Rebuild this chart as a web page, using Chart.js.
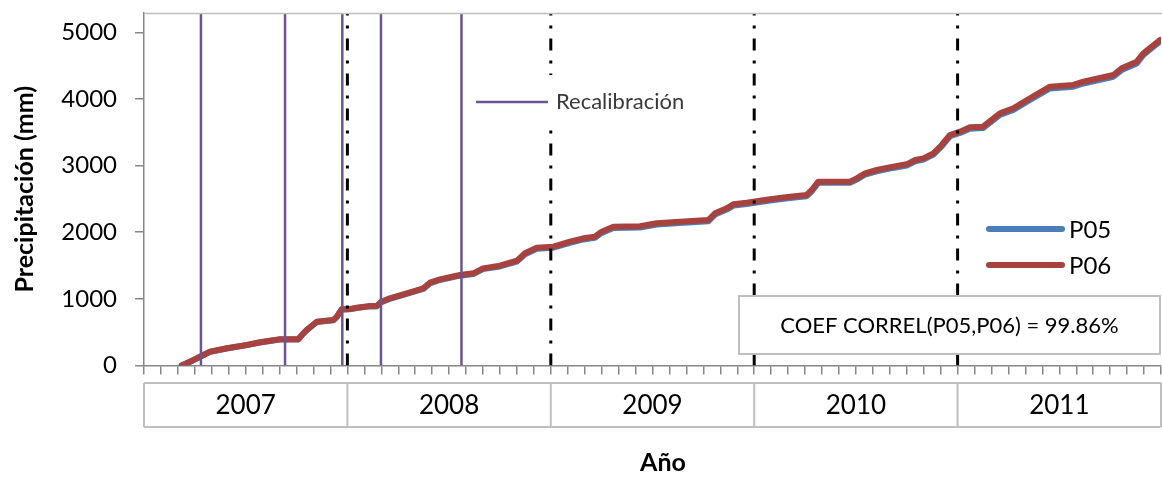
<!DOCTYPE html>
<html>
<head>
<meta charset="utf-8">
<script src="https://cdn.jsdelivr.net/npm/chart.js@4/dist/chart.umd.min.js"></script>
<style>
  html, body { margin: 0; padding: 0; background: #fff; }
  canvas { display: block; }
</style>
</head>
<body>
<canvas id="c" width="1162" height="477"></canvas>
<script>
// ---- Data (x in months since 1 Jan 2007) ----
const years = ['2007', '2008', '2009', '2010', '2011'];
const yearBounds = [0, 12, 24, 36, 48, 60];
const yTicks = [0, 1000, 2000, 3000, 4000, 5000];
const recalibrations = [3.36, 8.32, 11.70, 13.98, 18.73];
const sampleMonths = [2.22,2.71,3.30,3.89,4.88,6.06,6.84,8.02,9.10,9.40,9.60,10.19,11.17,11.37,11.66,12.15,12.55,13.33,13.73,14.00,14.50,15.50,16.48,16.87,17.46,18.64,19.43,20.00,21.00,22.00,22.48,23.17,24.15,25.13,25.92,26.60,27.00,27.69,29.26,30.25,31.62,33.30,33.69,34.38,34.77,35.56,36.34,36.93,38.11,39.10,39.40,39.78,41.65,42.05,42.54,43.23,44.20,45.00,45.50,45.98,46.57,47.06,47.55,48.14,48.73,49.50,50.50,51.29,52.27,53.45,54.83,55.42,57.19,57.68,58.57,58.96,59.94];
const p06 = [0,57,132,207,258,308,348,393,393,483,533,657,683,732,843,848,867,893,893,957,1008,1083,1158,1243,1293,1358,1383,1458,1498,1573,1684,1768,1783,1858,1909,1933,2008,2083,2090,2134,2158,2184,2284,2359,2419,2443,2473,2494,2533,2559,2634,2759,2759,2809,2884,2934,2984,3019,3084,3109,3184,3309,3459,3509,3574,3584,3785,3860,4010,4184,4210,4259,4360,4460,4559,4685,4885];
const p05 = [0,55,130,205,256,306,346,390,390,480,530,652,678,727,838,843,862,887,887,950,1000,1075,1150,1233,1283,1348,1372,1446,1486,1560,1670,1753,1768,1842,1892,1915,1990,2064,2072,2115,2140,2165,2265,2340,2400,2425,2455,2476,2515,2541,2615,2741,2741,2790,2866,2915,2965,3000,3064,3090,3165,3290,3440,3490,3553,3563,3762,3836,3985,4158,4183,4232,4333,4433,4532,4660,4862];
const correlText = 'COEF CORREL(P05,P06) = 99.86%';

const Y_MAX = 5290;
const X_MIN = 0, X_MAX = 60;

const PURPLE = '#6B548F';
const RED = '#A8423F';
const BLUE = '#4A7EBB';
const AXIS = '#868686';
const BOX = '#BFBFBF';
const FONT = 'Lato, "Open Sans", sans-serif';

function vline(x) { return [{x: x, y: 0}, {x: x, y: Y_MAX}]; }

const datasets = [];
recalibrations.forEach((m, i) => datasets.push({
  label: 'Recalibración' + i, data: vline(m), borderColor: PURPLE, borderWidth: 2.5,
  pointRadius: 0, fill: false
}));
yearBounds.slice(1, -1).forEach((m, i) => datasets.push({
  label: 'year' + i, data: vline(m), borderColor: '#000', borderWidth: 3,
  borderDash: [12, 10, 3, 10], pointRadius: 0, fill: false
}));
datasets.push({
  label: 'P06', data: sampleMonths.map((m, i) => ({x: m, y: p06[i]})),
  borderColor: RED, borderWidth: 6, pointRadius: 0, fill: false, borderJoinStyle: 'round', borderCapStyle: 'round'
});
datasets.push({
  label: 'P05', data: sampleMonths.map((m, i) => ({x: m, y: p05[i]})),
  borderColor: BLUE, borderWidth: 6, pointRadius: 0, fill: false, borderJoinStyle: 'round', borderCapStyle: 'round'
});

const decor = {
  id: 'decor',
  afterDraw(chart) {
    const ctx = chart.ctx;
    const xs = chart.scales.x;
    const ca = chart.chartArea;
    ctx.save();
    // top border of plot area
    ctx.strokeStyle = BOX; ctx.lineWidth = 1.5;
    ctx.beginPath(); ctx.moveTo(ca.left, ca.top + 0.5); ctx.lineTo(chart.width, ca.top + 0.5); ctx.stroke();

    // Year category boxes
    const bTop = 383, bBot = 427;
    ctx.strokeStyle = BOX; ctx.lineWidth = 2;
    ctx.beginPath();
    ctx.moveTo(xs.getPixelForValue(X_MIN), bTop); ctx.lineTo(xs.getPixelForValue(X_MAX), bTop);
    ctx.moveTo(xs.getPixelForValue(X_MIN), bBot); ctx.lineTo(xs.getPixelForValue(X_MAX), bBot);
    yearBounds.forEach(b => {
      const px = Math.min(xs.getPixelForValue(b), chart.width - 1);
      ctx.moveTo(px, bTop); ctx.lineTo(px, bBot);
    });
    ctx.stroke();
    ctx.fillStyle = '#000';
    ctx.font = '26px ' + FONT;
    ctx.textAlign = 'center'; ctx.textBaseline = 'middle';
    years.forEach((y, i) => {
      const cx = (xs.getPixelForValue(yearBounds[i]) + xs.getPixelForValue(yearBounds[i + 1])) / 2;
      ctx.fillText(y, cx, 406);
    });

    // X axis title
    ctx.font = 'bold 25px ' + FONT;
    ctx.fillText('Año', 663, 463);

    // Recalibración legend (white box)
    ctx.fillStyle = '#fff';
    ctx.fillRect(470, 75, 232, 53);
    ctx.strokeStyle = PURPLE; ctx.lineWidth = 2.5;
    ctx.beginPath(); ctx.moveTo(476, 102); ctx.lineTo(548, 102); ctx.stroke();
    ctx.fillStyle = '#3a3a3a';
    ctx.font = '22px ' + FONT;
    ctx.textAlign = 'left';
    ctx.fillText('Recalibración', 556, 102);

    // P05 / P06 legend
    ctx.lineCap = 'round'; ctx.lineWidth = 6;
    [['P05', BLUE, 229], ['P06', RED, 265]].forEach(([t, c, y]) => {
      ctx.strokeStyle = c;
      ctx.beginPath(); ctx.moveTo(989, y); ctx.lineTo(1062, y); ctx.stroke();
      ctx.fillStyle = '#000';
      ctx.font = '24px ' + FONT;
      ctx.fillText(t, 1069, y + 1);
    });
    ctx.lineCap = 'butt';

    // Correlation box
    ctx.fillStyle = '#fff';
    ctx.fillRect(739, 296, 421, 58);
    ctx.strokeStyle = BOX; ctx.lineWidth = 2;
    ctx.strokeRect(739, 296, 421, 58);
    ctx.fillStyle = '#000';
    ctx.font = '22px ' + FONT;
    ctx.textAlign = 'center';
    ctx.fillText(correlText, 949.5, 326);
    ctx.restore();
  }
};

function draw() {
  new Chart(document.getElementById('c'), {
    type: 'line',
    data: { datasets },
    plugins: [decor],
    options: {
      responsive: false,
      animation: false,
      devicePixelRatio: 1,
      layout: { padding: { top: 13, right: 1, left: 0, bottom: 0 } },
      plugins: { legend: { display: false }, tooltip: { enabled: false } },
      scales: {
        x: {
          type: 'linear', min: X_MIN, max: X_MAX, position: 'bottom',
          border: { color: AXIS, width: 1.5 },
          grid: { drawOnChartArea: false, drawTicks: true, tickLength: 9, color: AXIS, lineWidth: 1.5 },
          ticks: { autoSkip: false, callback: () => '', padding: 0, font: { size: 1 } },
          afterBuildTicks: s => { s.ticks = Array.from({length: X_MAX - X_MIN + 1}, (_, i) => ({ value: X_MIN + i })); },
          afterFit: s => { s.height = 111.5; s.paddingLeft = 0; s.paddingRight = 0; }
        },
        y: {
          min: 0, max: Y_MAX,
          border: { color: AXIS, width: 1.5 },
          grid: { drawOnChartArea: false, drawTicks: true, tickLength: 9, color: AXIS, lineWidth: 1.5 },
          ticks: { color: '#000', padding: 18, font: { family: FONT, size: 24 }, callback: v => String(v) },
          afterBuildTicks: s => { s.ticks = yTicks.map(v => ({ value: v })); },
          afterFit: s => { s.width = 144; s.paddingTop = 0; s.paddingBottom = 0; },
          title: { display: true, text: 'Precipitación (mm)', color: '#000',
                   font: { family: FONT, size: 25, weight: 'bold' }, padding: { top: 10, bottom: 0 } }
        }
      }
    }
  });
}

if (document.fonts && document.fonts.load) {
  Promise.all([document.fonts.load('24px Lato'), document.fonts.load('bold 24px Lato')]).then(draw, draw);
} else { draw(); }
</script>
</body>
</html>
